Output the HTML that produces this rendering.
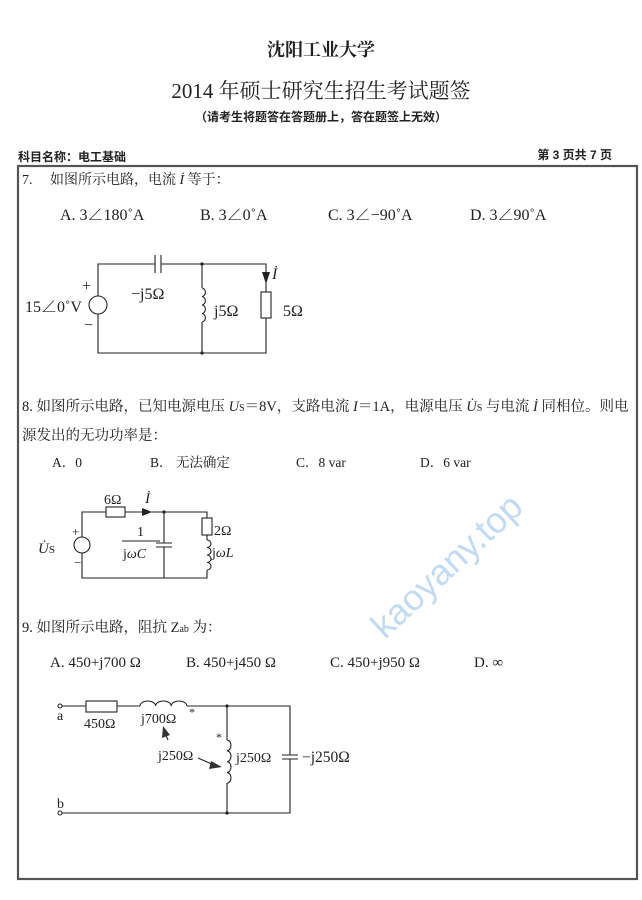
<!DOCTYPE html>
<html><head><meta charset="utf-8"><style>
body{margin:0;background:#fff}
svg{display:block}
text{font-family:"Liberation Serif","Noto Serif CJK SC",serif;fill:#222}
.b{font-family:"Liberation Sans","Noto Sans CJK SC",sans-serif;font-weight:bold}
</style></head><body>
<svg width="642" height="900" viewBox="0 0 642 900" xmlns="http://www.w3.org/2000/svg">
<rect width="642" height="900" fill="#fff"/>
<text x="321" y="56" font-size="18" text-anchor="middle" font-weight="bold">沈阳工业大学</text>
<text x="321" y="98" font-size="21" text-anchor="middle">2014 年硕士研究生招生考试题签</text>
<text x="321" y="121" font-size="12" text-anchor="middle" class="b">（请考生将题答在答题册上，答在题签上无效）</text>
<text x="18" y="161" font-size="12" class="b">科目名称：电工基础</text>
<text x="612" y="159" font-size="12" class="b" text-anchor="end">第 3 页共 7 页</text>
<rect x="18" y="166" width="619" height="713" fill="none" stroke="#555" stroke-width="2.2"/>

<!-- watermark -->
<text x="0" y="0" font-size="36" style="fill:#c3daf3;font-family:'Liberation Sans',sans-serif" transform="translate(385,640) rotate(-43)">kaoyany.top</text>

<!-- Q7 -->
<text x="22" y="184" font-size="14">7.　 如图所示电路，电流 <tspan font-style="italic">İ</tspan> 等于：</text>
<text x="60" y="220" font-size="16">A.  3∠180˚A</text>
<text x="200" y="220" font-size="16">B.  3∠0˚A</text>
<text x="328" y="220" font-size="16">C. 3∠−90˚A</text>
<text x="470" y="220" font-size="16">D. 3∠90˚A</text>
<g stroke="#222" stroke-width="1.1" fill="none">
<path d="M98 296V264H155M161 264H266V292M266 318V353H98V314"/>
<path d="M155 255V273M161 255V273"/>
<circle cx="98" cy="305" r="9"/>
<path d="M202 264V288M202 322V353"/>
<path d="M202 288a4 4.3 0 0 1 0 8.5a4 4.3 0 0 1 0 8.5a4 4.3 0 0 1 0 8.5a4 4.3 0 0 1 0 8.5"/>
<rect x="261" y="292" width="10" height="26"/>
</g>
<circle cx="202" cy="264" r="1.6" fill="#222"/><circle cx="202" cy="353" r="1.6" fill="#222"/>
<path d="M262 272L270 272L266 284Z" fill="#222"/>
<text x="82" y="291" font-size="16">+</text><text x="84" y="330" font-size="16">−</text>
<text x="25" y="312" font-size="16">15∠0˚V</text>
<text x="131" y="299" font-size="16">−j5Ω</text>
<text x="214" y="316" font-size="16">j5Ω</text>
<text x="283" y="316" font-size="16">5Ω</text>
<text x="272" y="279" font-size="16" font-style="italic">İ</text>

<!-- Q8 -->
<text x="22" y="411" font-size="14.5">8. 如图所示电路，已知电源电压 <tspan font-style="italic">U</tspan><tspan font-size="10">S</tspan>＝8V，支路电流 <tspan font-style="italic">I</tspan>＝1A，电源电压 <tspan font-style="italic">U̇</tspan><tspan font-size="10">S</tspan> 与电流 <tspan font-style="italic">İ</tspan> 同相位。则电</text>
<text x="22" y="440" font-size="14.5">源发出的无功功率是：</text>
<text x="52" y="467" font-size="13.5">A．0</text>
<text x="150" y="467" font-size="13.5">B．  无法确定</text>
<text x="296" y="467" font-size="13.5">C．8 var</text>
<text x="420" y="467" font-size="13.5">D．6 var</text>
<g stroke="#222" stroke-width="1.1" fill="none">
<path d="M82 537V512H106M125 512H207V518M207 535V540M207 570V578H82V553"/>
<circle cx="82" cy="545" r="8"/>
<rect x="106" y="507" width="19" height="10"/>
<path d="M164 512V543M164 547V578M156 543H172M156 547H172"/>
<rect x="202" y="518" width="10" height="17"/>
<path d="M207 540a4 3.75 0 0 1 0 7.5a4 3.75 0 0 1 0 7.5a4 3.75 0 0 1 0 7.5a4 3.75 0 0 1 0 7.5"/>
<path d="M122 541H160"/>
</g>
<circle cx="164" cy="512" r="1.6" fill="#222"/>
<path d="M142 508L152 512L142 516Z" fill="#222"/>
<text x="104" y="504" font-size="14">6Ω</text>
<text x="145" y="503" font-size="15" font-style="italic">İ</text>
<text x="137" y="536" font-size="14">1</text>
<text x="123" y="558" font-size="14">j<tspan font-style="italic">ωC</tspan></text>
<text x="214" y="535" font-size="14">2Ω</text>
<text x="212" y="557" font-size="14">j<tspan font-style="italic">ωL</tspan></text>
<text x="72" y="536" font-size="13">+</text><text x="74" y="567" font-size="13">−</text>
<text x="38" y="553" font-size="15" font-style="italic">U̇<tspan font-size="11" font-style="normal">S</tspan></text>

<!-- Q9 -->
<text x="22" y="632" font-size="14.5">9. 如图所示电路，阻抗 Z<tspan font-size="10">ab</tspan> 为：</text>
<text x="50" y="667" font-size="15">A. 450+j700 Ω</text>
<text x="186" y="667" font-size="15">B.  450+j450 Ω</text>
<text x="330" y="667" font-size="15">C. 450+j950 Ω</text>
<text x="474" y="667" font-size="15">D. ∞</text>
<g stroke="#222" stroke-width="1.1" fill="none">
<path d="M62 706H86M117 706H140M187 706H290V755M290 759V813H62M227 706V740M227 783V813"/>
<rect x="86" y="701" width="31" height="11"/>
<path d="M140 706a7.8 5 0 0 1 15.6 0a7.8 5 0 0 1 15.6 0a7.8 5 0 0 1 15.6 0"/>
<path d="M227 740a4 5.4 0 0 1 0 10.8a4 5.4 0 0 1 0 10.8a4 5.4 0 0 1 0 10.8a4 5.4 0 0 1 0 10.8"/>
<path d="M282 755H298M282 759H298"/>
<path d="M168 740L164 731M198 758L214 765"/>
<circle cx="60" cy="706" r="2" fill="#fff"/><circle cx="60" cy="813" r="2" fill="#fff"/>
</g>
<circle cx="227" cy="706" r="1.6" fill="#222"/><circle cx="227" cy="813" r="1.6" fill="#222"/>
<path d="M163 726L170 735L162 738Z" fill="#333"/>
<path d="M222 767L211 761L209 769Z" fill="#333"/>
<text x="57" y="720" font-size="14">a</text>
<text x="57" y="808" font-size="14">b</text>
<text x="84" y="728" font-size="14">450Ω</text>
<text x="141" y="723" font-size="14">j700Ω</text>
<text x="189" y="716" font-size="12">*</text>
<text x="216" y="741" font-size="12">*</text>
<text x="158" y="760" font-size="14">j250Ω</text>
<text x="236" y="762" font-size="14">j250Ω</text>
<text x="302" y="762" font-size="15.5">−j250Ω</text>
</svg>
</body></html>
